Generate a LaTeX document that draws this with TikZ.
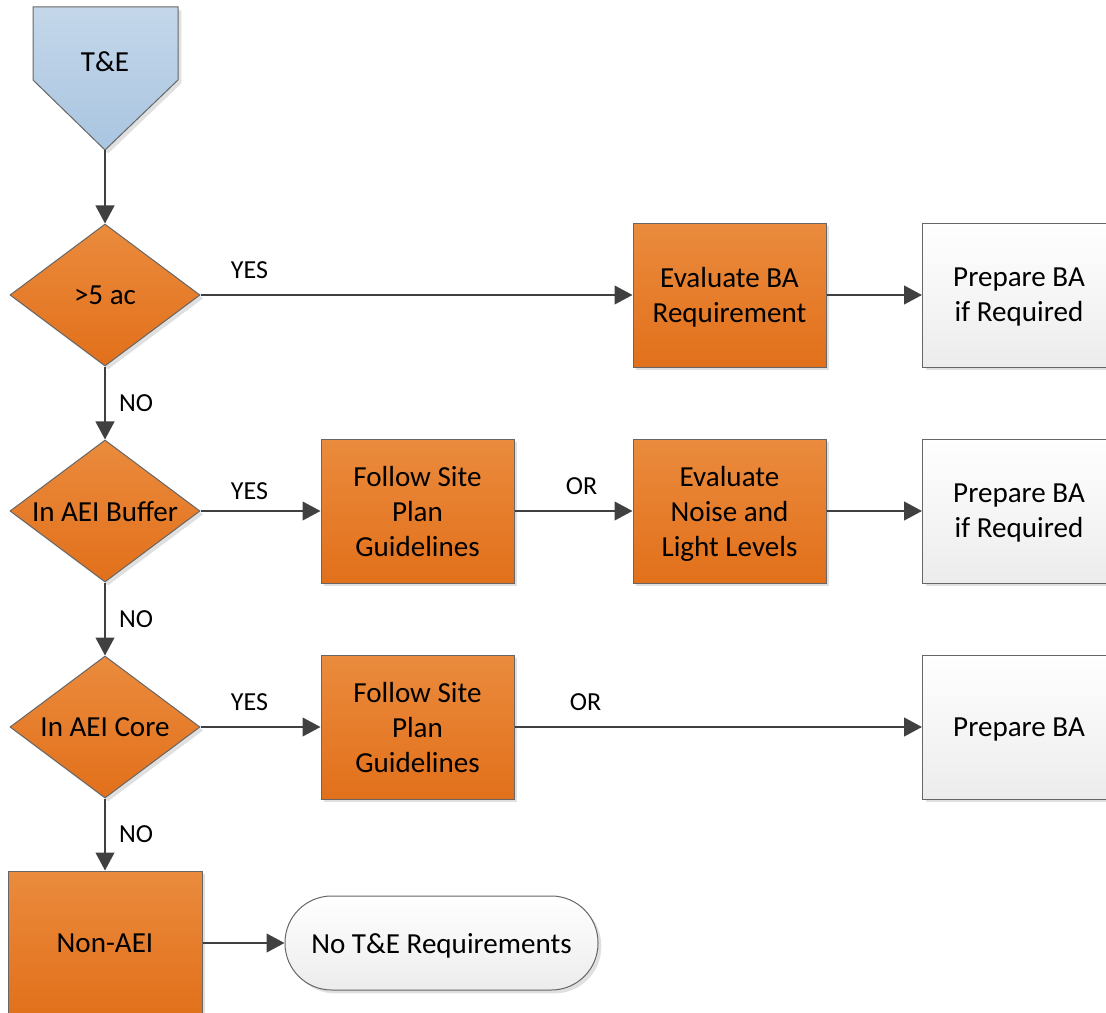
\documentclass[tikz,border=0pt]{standalone}
\usepackage{fontspec}
\setmainfont{Carlito}
\usetikzlibrary{shapes.geometric,shadows,arrows.meta}
\definecolor{orangeTop}{HTML}{EA8B3D}
\definecolor{orangeBottom}{HTML}{E2701B}
\definecolor{blueTop}{HTML}{C4D7EA}
\definecolor{blueBottom}{HTML}{A9C5E0}
\definecolor{paleBottom}{HTML}{ECECEC}
\definecolor{edgeGray}{HTML}{666666}
\definecolor{arrowGray}{HTML}{404040}
\newcommand{\boxFont}{\fontsize{21.8}{26.25}\selectfont}
\newcommand{\labelFont}{\fontsize{19.5}{23}\selectfont}
\tikzset{
	soft shadow/.style={drop shadow={shadow xshift=2.5pt, shadow yshift=-2.5pt, fill=black, opacity=.12}},
	orangebox/.style={rectangle, draw=edgeGray, line width=.75pt, top color=orangeTop, bottom color=orangeBottom, minimum width=144.75pt, minimum height=108pt, inner sep=0pt, align=center, font=\boxFont, text depth=0pt, soft shadow},
	palebox/.style={orangebox, top color=white, bottom color=paleBottom},
	decision/.style={diamond, aspect=1.34, draw=edgeGray, line width=.75pt, top color=orangeTop, bottom color=orangeBottom, minimum width=142.5pt, minimum height=106.5pt, inner sep=0pt, font=\boxFont, text depth=0pt, soft shadow},
	terminal/.style={rectangle, rounded corners=35pt, draw=edgeGray, line width=.75pt, top color=white, bottom color=paleBottom, minimum width=234.75pt, minimum height=70.5pt, font=\boxFont, text depth=0pt, soft shadow},
	flow/.style={draw=arrowGray, line width=1.7pt, -{Triangle[length=13.5pt, width=14pt]}},
	lbl/.style={inner sep=0pt, font=\labelFont, text=black},
}
\begin{document}
\begin{tikzpicture}[x=.75pt, y=-.75pt]
	\useasboundingbox (0,0) rectangle (1106,1013);
	\clip (0,0) rectangle (1106,1013);
	% start symbol
	\shade[top color=blueTop, bottom color=blueBottom, draw=edgeGray, line width=.75pt, soft shadow] (33,7) -- (178,7) -- (178,80) -- (105,150) -- (33,80) -- cycle;
	\node[font=\boxFont, inner sep=0pt] (te) at (105,61.5) {T\&E};
	\coordinate (teTip) at (105,150);
	% decisions
	\node[decision] (gt5) at (105,295) {>5 ac};
	\node[decision] (buffer) at (105,511) {In AEI Buffer};
	\node[decision] (core) at (105,727) {In AEI Core};
	\node[orangebox, minimum width=145.5pt] (nonaei) at (105,943) {Non-AEI};
	% actions
	\node[orangebox] (evalBA) at (729.5,295) {Evaluate BA\\Requirement};
	\node[orangebox] (followBuffer) at (417.5,511) {Follow Site\\Plan\\Guidelines};
	\node[orangebox] (evalNoise) at (729.5,511) {Evaluate\\Noise and\\Light Levels};
	\node[orangebox] (followCore) at (417.5,727) {Follow Site\\Plan\\Guidelines};
	\foreach \boxName/\yCoord/\boxText in {prepOne/295/{Prepare BA\\if Required}, prepTwo/511/{Prepare BA\\if Required}, prepThree/727/{Prepare BA}}
	{
		\node[palebox] (\boxName) at (1019,\yCoord) {\boxText};
	}
	\node[terminal] (noReq) at (441.5,943) {No T\&E Requirements};
	% connectors
	\draw[flow] (teTip) -- (gt5);
	\foreach \fromNode/\toNode/\noName in {gt5/buffer/noOne, buffer/core/noTwo, core/nonaei/noThree}
	{
		\draw[flow] (\fromNode) -- node[lbl, right=9.75pt] (\noName) {NO} (\toNode);
	}
	\draw[flow] (gt5) -- node[lbl, at start, xshift=36.75pt, yshift=18.4pt] (yesOne) {YES} (evalBA);
	\draw[flow] (buffer) -- node[lbl, at start, xshift=36.75pt, yshift=14.6pt] (yesTwo) {YES} (followBuffer);
	\draw[flow] (core) -- node[lbl, at start, xshift=36.75pt, yshift=18.75pt] (yesThree) {YES} (followCore);
	\draw[flow] (evalBA) -- (prepOne);
	\draw[flow] (followBuffer) -- node[lbl, at start, xshift=50.25pt, yshift=18.4pt] (orOne) {OR} (evalNoise);
	\draw[flow] (evalNoise) -- (prepTwo);
	\draw[flow] (followCore) -- node[lbl, at start, xshift=53.25pt, yshift=18.4pt] (orTwo) {OR} (prepThree);
	\draw[flow] (nonaei) -- (noReq);
\end{tikzpicture}
\end{document}
